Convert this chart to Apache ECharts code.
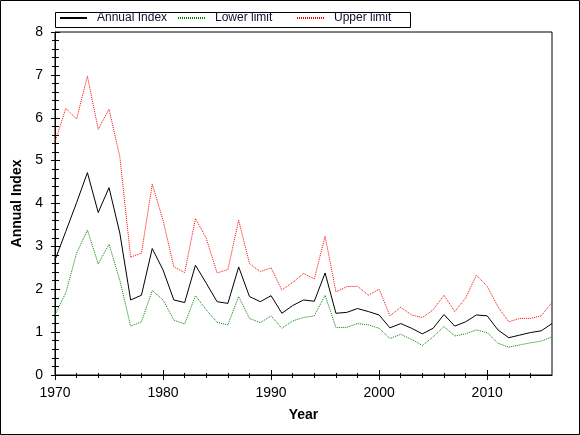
<!DOCTYPE html>
<html>
<head>
<meta charset="utf-8">
<script src="https://cdn.jsdelivr.net/npm/echarts@6/dist/echarts.min.js"></script>
<style>
html, body { margin: 0; padding: 0; background: #fff; }
#main { width: 580px; height: 435px; }
</style>
</head>
<body>
<div id="main"></div>
<script>
// values, one per year
var years = [1970, 1971, 1972, 1973, 1974, 1975, 1976, 1977, 1978, 1979,
             1980, 1981, 1982, 1983, 1984, 1985, 1986, 1987, 1988, 1989,
             1990, 1991, 1992, 1993, 1994, 1995, 1996, 1997, 1998, 1999,
             2000, 2001, 2002, 2003, 2004, 2005, 2006, 2007, 2008, 2009,
             2010, 2011, 2012, 2013, 2014, 2015, 2016];
var annualIndex = [2.68, 3.35, 4.02, 4.72, 3.79, 4.37, 3.31, 1.75, 1.86, 2.95,
                   2.45, 1.75, 1.69, 2.56, 2.14, 1.71, 1.67, 2.52, 1.83, 1.71,
                   1.85, 1.44, 1.62, 1.75, 1.72, 2.38, 1.44, 1.46, 1.55, 1.48,
                   1.40, 1.10, 1.20, 1.09, 0.96, 1.09, 1.41, 1.14, 1.24, 1.40,
                   1.38, 1.05, 0.87, 0.93, 0.99, 1.03, 1.20];
var lowerLimit = [1.40, 1.92, 2.84, 3.38, 2.59, 3.05, 2.21, 1.14, 1.24, 1.97,
                  1.75, 1.28, 1.19, 1.85, 1.52, 1.23, 1.17, 1.83, 1.32, 1.22,
                  1.38, 1.09, 1.26, 1.34, 1.38, 1.86, 1.11, 1.11, 1.20, 1.17,
                  1.09, 0.85, 0.95, 0.83, 0.69, 0.89, 1.13, 0.91, 0.96, 1.05,
                  0.99, 0.74, 0.65, 0.70, 0.75, 0.79, 0.89];
var upperLimit = [5.44, 6.22, 5.97, 6.97, 5.73, 6.20, 5.09, 2.75, 2.84, 4.45,
                  3.61, 2.52, 2.39, 3.65, 3.19, 2.38, 2.46, 3.61, 2.60, 2.41,
                  2.50, 1.98, 2.16, 2.37, 2.24, 3.24, 1.94, 2.06, 2.07, 1.86,
                  2.00, 1.38, 1.58, 1.40, 1.34, 1.52, 1.86, 1.48, 1.79, 2.33,
                  2.07, 1.59, 1.24, 1.32, 1.32, 1.38, 1.69];

// tick labels
var xMajor = [1970, 1980, 1990, 2000, 2010];
var xMinor = [1972, 1974, 1976, 1978, 1982, 1984, 1986, 1988, 1992, 1994, 1996, 1998,
              2002, 2004, 2006, 2008, 2012, 2014];
var seriesNames = ['Annual Index', 'Lower limit', 'Upper limit'];

var FONT = '"Liberation Sans", Arial, sans-serif';

function pairs(vals) {
    return years.map(function (y, i) { return [y, vals[i]]; });
}

// extra x axis used only to draw one set of ticks (inside or outside)
function xTicks(values, len, inside) {
    return {
        type: 'value', min: 1970, max: 2016, position: 'bottom', offset: 0,
        axisLine: { show: false, onZero: false },
        axisLabel: { show: false },
        splitLine: { show: false },
        axisTick: { show: true, inside: inside, length: len, customValues: values,
                    lineStyle: { color: '#000', width: 1 } }
    };
}

var myChart = echarts.init(document.getElementById('main'));
var option = {
    animation: false,
    backgroundColor: '#fff',
    grid: {
        left: 55, top: 32, width: 497, height: 343,
        show: true, borderColor: '#000', borderWidth: 1, backgroundColor: 'transparent'
    },
    graphic: [
        // outer frame and legend box
        { type: 'rect', z: 0, shape: { x: 0.5, y: 0.5, width: 579, height: 434 },
          style: { fill: 'none', stroke: '#000', lineWidth: 1 } },
        { type: 'rect', z: 0, shape: { x: 55.5, y: 12.5, width: 355, height: 15 },
          style: { fill: '#fff', stroke: '#000', lineWidth: 1 } }
    ],
    legend: [
        { data: [seriesNames[0]], left: 59 },
        { data: [seriesNames[1]], left: 177 },
        { data: [seriesNames[2]], left: 296 }
    ].map(function (l) {
        l.top = 12;
        l.padding = 0;
        l.itemGap = 0;
        l.itemWidth = 27;
        l.itemHeight = 14;
        l.selectedMode = false;
        l.z = 10;
        l.itemStyle = { opacity: 0, borderWidth: 0 };
        l.textStyle = { fontFamily: FONT, fontSize: 12, color: '#1a0830', padding: [0, 0, 0, 5] };
        return l;
    }),
    xAxis: [
        {
            type: 'value', min: 1970, max: 2016, position: 'bottom', offset: 0,
            name: 'Year', nameLocation: 'middle', nameGap: 33,
            nameTextStyle: { fontFamily: FONT, fontSize: 14, fontWeight: 'bold', color: '#000' },
            axisLine: { show: true, onZero: false, lineStyle: { color: '#000', width: 1 } },
            axisTick: { show: true, length: 5, customValues: xMajor, lineStyle: { color: '#000' } },
            axisLabel: { fontFamily: FONT, fontSize: 14, color: '#000', margin: 11,
                         customValues: xMajor,
                         formatter: function (v) { return String(v); } },
            splitLine: { show: false }
        },
        xTicks(xMajor, 5, true),
        xTicks(xMinor, 3, false),
        xTicks(xMinor, 2, true)
    ],
    yAxis: [
        {
            type: 'value', min: 0, max: 8, interval: 1, position: 'left', offset: 0,
            name: 'Annual Index', nameLocation: 'middle', nameGap: 31,
            nameTextStyle: { fontFamily: FONT, fontSize: 14, fontWeight: 'bold', color: '#000' },
            axisLine: { show: true, onZero: false, lineStyle: { color: '#000', width: 1 } },
            axisTick: { show: true, length: 4, lineStyle: { color: '#000' } },
            minorTick: { show: true, splitNumber: 5, length: 3, lineStyle: { color: '#000' } },
            axisLabel: { fontFamily: FONT, fontSize: 14, color: '#000', margin: 12 },
            splitLine: { show: false }
        },
        {
            type: 'value', min: 0, max: 8, interval: 1, position: 'left', offset: 0,
            axisLine: { show: false, onZero: false },
            axisTick: { show: true, inside: true, length: 5, lineStyle: { color: '#000' } },
            minorTick: { show: true, splitNumber: 5, length: 4, lineStyle: { color: '#000' } },
            axisLabel: { show: false },
            splitLine: { show: false }
        }
    ],
    series: [
        { name: seriesNames[0], type: 'line', symbol: 'none', data: pairs(annualIndex),
          lineStyle: { color: '#000', width: 1 }, itemStyle: { color: '#000' } },
        { name: seriesNames[1], type: 'line', symbol: 'none', data: pairs(lowerLimit),
          lineStyle: { color: '#008000', width: 1, type: [1, 1] }, itemStyle: { color: '#008000' } },
        { name: seriesNames[2], type: 'line', symbol: 'none', data: pairs(upperLimit),
          lineStyle: { color: '#ff0000', width: 1, type: [1, 1] }, itemStyle: { color: '#ff0000' } }
    ]
};
myChart.setOption(option);
</script>
</body>
</html>
